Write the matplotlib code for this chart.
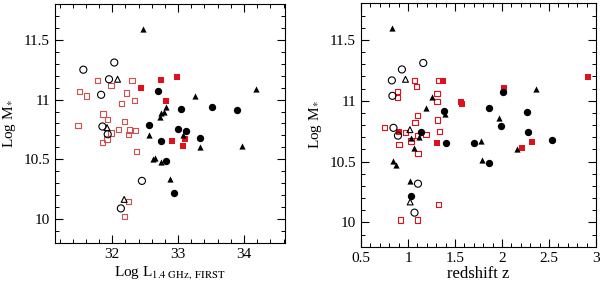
import matplotlib
matplotlib.use('Agg')
import matplotlib.pyplot as plt
from matplotlib.ticker import MultipleLocator

plt.rcParams['font.family'] = ['Liberation Serif', 'DejaVu Serif']
plt.rcParams['mathtext.fontset'] = 'stix'

####### data: left panel (Log L vs Log M) #######
l_fc_x = [32.70, 33.04, 33.51, 33.89, 32.56, 33.00, 33.12, 33.33, 32.74, 32.82, 32.94]
l_fc_y = [11.07, 10.92, 10.94, 10.91, 10.79, 10.75, 10.74, 10.675, 10.65, 10.485, 10.22]
l_oc_x = [32.03, 31.56, 31.95, 31.83, 31.85, 31.93, 32.45, 32.13]
l_oc_y = [11.31, 11.25, 11.17, 11.04, 10.775, 10.71, 10.32, 10.09]
l_ft_x = [32.47, 33.26, 34.18, 32.82, 32.74, 32.78, 32.72, 33.07, 32.55, 33.33, 33.97,
          32.62, 32.65, 32.74, 32.87]
l_ft_y = [11.59, 11.03, 11.09, 10.94, 10.89, 10.895, 10.855, 10.70, 10.70, 10.60, 10.61,
          10.50, 10.515, 10.475, 10.335]
l_ot_x = [32.08, 31.92, 32.18]
l_ot_y = [11.17, 10.765, 10.165]
l_rf_x = [32.74, 32.98, 32.44, 32.81, 32.91, 33.10, 33.08]
l_rf_y = [11.16, 11.19, 11.10, 10.99, 10.65, 10.667, 10.61]
l_ro_x = [31.78, 32.30, 31.98, 31.50, 31.61, 32.21, 32.14, 32.34, 31.86, 31.93, 32.19,
          31.48, 31.98, 32.10, 32.26, 32.25, 32.35, 31.92, 31.85, 32.37, 32.25, 32.18]
l_ro_y = [11.16, 11.16, 11.12, 11.07, 11.03, 11.055, 10.97, 10.99, 10.88, 10.835, 10.82,
          10.78, 10.72, 10.75, 10.745, 10.71, 10.74, 10.67, 10.64, 10.565, 10.145, 10.02]

####### data: right panel (redshift vs Log M) #######
r_fc_x = [1.379, 1.857, 2.010, 2.263, 1.988, 2.279, 2.530, 1.141, 1.403, 1.702, 1.865, 1.031]
r_fc_y = [10.917, 10.942, 11.075, 10.91, 10.79, 10.746, 10.677, 10.746, 10.653, 10.653,
          10.489, 10.22]
r_oc_x = [1.162, 0.935, 0.828, 0.834, 0.845, 0.893, 1.106, 1.069]
r_oc_y = [11.31, 11.257, 11.167, 11.04, 10.777, 10.713, 10.318, 10.08]
r_ft_x = [0.834, 1.251, 2.364, 1.194, 1.39, 1.967, 1.027, 1.112, 1.771, 1.064, 2.158,
          1.790, 0.839, 0.877, 1.02]
r_ft_y = [11.594, 11.032, 11.096, 10.936, 10.89, 10.855, 10.694, 10.70, 10.669, 10.615,
          10.601, 10.516, 10.506, 10.47, 10.34]
r_ot_x = [0.973, 1.02, 1.023]
r_ot_y = [11.176, 10.762, 10.168]
r_rf_x = [1.373, 1.561, 1.574, 2.017, 2.911, 0.909, 1.304, 2.209, 2.324]
r_rf_y = [11.163, 10.988, 10.975, 11.105, 11.194, 10.746, 10.653, 10.614, 10.664]
r_ro_x = [1.069, 1.090, 1.326, 0.887, 0.888, 1.309, 1.309, 1.104, 1.075, 1.315, 0.746,
          0.970, 1.101, 1.191, 1.333, 1.031, 0.903, 1.106, 1.326, 0.924, 1.101]
r_ro_y = [11.163, 11.118, 11.163, 11.075, 11.026, 11.061, 10.996, 10.877, 10.824, 10.842,
          10.779, 10.740, 10.716, 10.724, 10.746, 10.669, 10.640, 10.566, 10.144, 10.019,
          10.019]

RED = '#e0101c'


def draw(ax, fc, oc, ft, ot, rf, ro, ro_col):
    ax.scatter(*ro, marker='s', s=14, facecolors='none', edgecolors=ro_col, linewidths=0.8)
    ax.scatter(*rf, marker='s', s=16, color=RED, linewidths=0)
    ax.scatter(*oc, marker='o', s=26, facecolors='none', edgecolors='k', linewidths=0.8)
    ax.scatter(*ot, marker='^', s=18, facecolors='none', edgecolors='k', linewidths=0.8)
    ax.scatter(*fc, marker='o', s=28, color='k', linewidths=0)
    ax.scatter(*ft, marker='^', s=20, color='k', linewidths=0)
    ax.tick_params(which='both', direction='in', top=True, right=True, labelsize=11)
    ax.tick_params(which='major', length=6, width=0.8)
    ax.tick_params(which='minor', length=3, width=0.7)
    ax.set_ylim(9.8, 11.8)
    ax.yaxis.set_major_locator(MultipleLocator(0.5))
    ax.yaxis.set_minor_locator(MultipleLocator(0.1))
    ax.set_yticks([10, 10.5, 11, 11.5], ['10', '10.5', '11', '11.5'])
    ax.set_ylabel(r'Log M$_{*}$', fontsize=11)


fig = plt.figure(figsize=(6.0, 2.81), dpi=100)

ax1 = fig.add_axes([0.0917, 0.135, 0.383, 0.851])
draw(ax1, (l_fc_x, l_fc_y), (l_oc_x, l_oc_y), (l_ft_x, l_ft_y), (l_ot_x, l_ot_y),
     (l_rf_x, l_rf_y), (l_ro_x, l_ro_y), '#d05050')
ax1.set_xlim(31.13, 34.62)
ax1.xaxis.set_major_locator(MultipleLocator(1))
ax1.xaxis.set_minor_locator(MultipleLocator(0.2))
ax1.set_xlabel(r'Log L$_{\rm 1.4\ GHz,\ FIRST}$', fontsize=11, labelpad=2)

ax2 = fig.add_axes([0.6017, 0.122, 0.3917, 0.866])
draw(ax2, (r_fc_x, r_fc_y), (r_oc_x, r_oc_y), (r_ft_x, r_ft_y), (r_ot_x, r_ot_y),
     (r_rf_x, r_rf_y), (r_ro_x, r_ro_y), RED)
ax2.set_xlim(0.5, 3.0)
ax2.xaxis.set_major_locator(MultipleLocator(0.5))
ax2.xaxis.set_minor_locator(MultipleLocator(0.1))
ax2.set_xticks([0.5, 1, 1.5, 2, 2.5, 3], ['0.5', '1', '1.5', '2', '2.5', '3'])
ax2.set_xlabel('redshift z', fontsize=12, labelpad=1)

fig.savefig('out.png', dpi=100)
